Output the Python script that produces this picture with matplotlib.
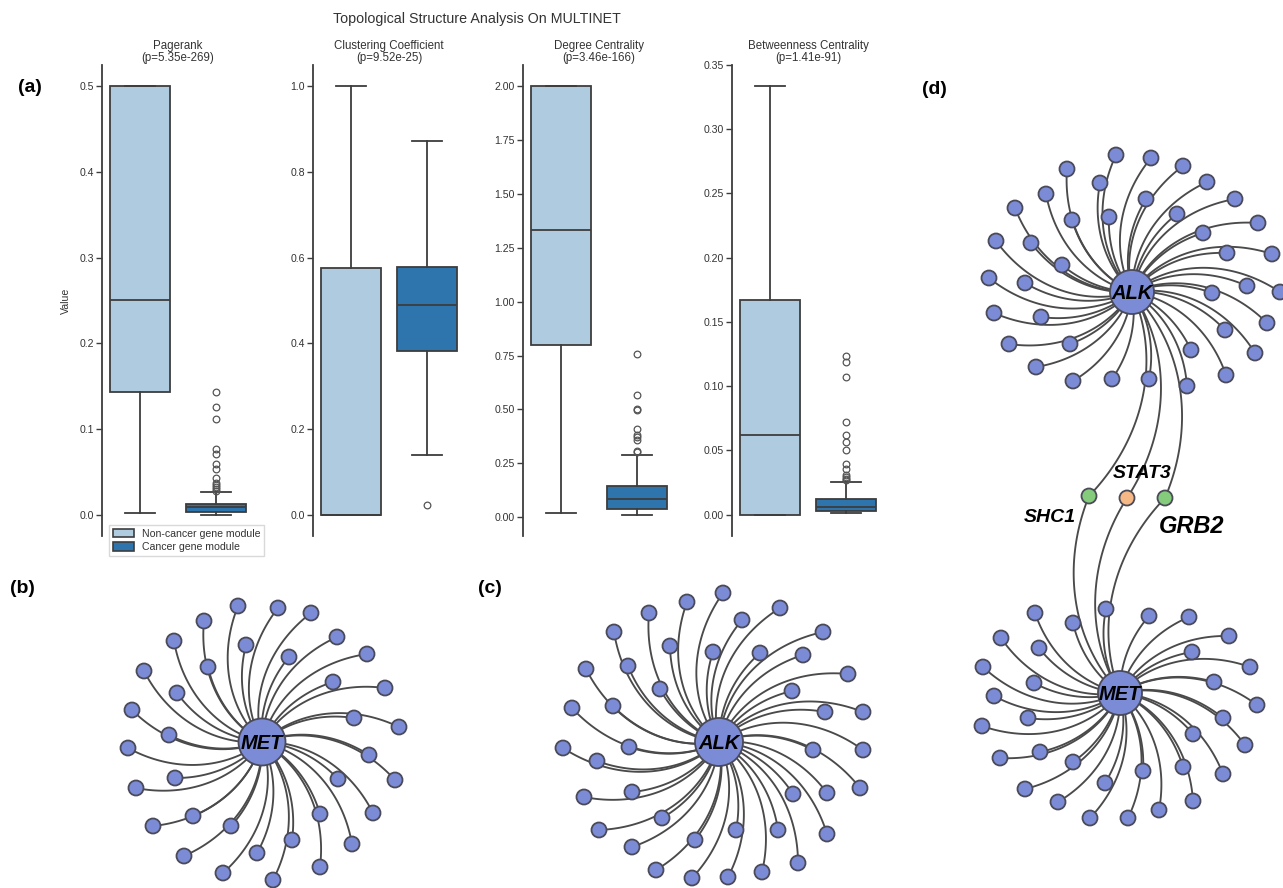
import numpy as np
import matplotlib
matplotlib.use("Agg")
import matplotlib.pyplot as plt
from matplotlib.patches import Circle, Patch

plt.rcParams["font.family"] = ["Liberation Sans", "DejaVu Sans"]

# ---------------------------------------------------------------------------
# Box-plot data: topological metrics of cancer vs. non-cancer gene modules
# ---------------------------------------------------------------------------
metrics = ["Pagerank", "Clustering Coefficient", "Degree Centrality",
           "Betweenness Centrality"]
p_values = ["5.35e-269", "9.52e-25", "3.46e-166", "1.41e-91"]
groups = ["Non-cancer gene module", "Cancer gene module"]

# whisker-low, Q1, median, Q3, whisker-high
noncancer_stats = [
    [0.002, 0.143, 0.25, 0.50, 0.50],
    [0.0, 0.0, 0.0, 0.575, 1.0],
    [0.02, 0.80, 1.333, 2.0, 2.0],
    [0.0, 0.0, 0.062, 0.1667, 0.3333],
]
cancer_stats = [
    [0.0, 0.0027, 0.0085, 0.0126, 0.026],
    [0.14, 0.383, 0.49, 0.579, 0.873],
    [0.011, 0.037, 0.085, 0.145, 0.288],
    [0.0013, 0.0026, 0.0057, 0.0122, 0.0252],
]
cancer_fliers = [
    [0.143, 0.1255, 0.112, 0.0765, 0.0706, 0.0588, 0.0538, 0.0432, 0.0365,
     0.0341, 0.0321, 0.0302, 0.028],
    [0.023],
    [0.759, 0.566, 0.50, 0.498, 0.409, 0.381, 0.370, 0.358, 0.308, 0.304],
    [0.1238, 0.119, 0.1072, 0.0722, 0.0618, 0.0566, 0.050, 0.039, 0.0356,
     0.0306, 0.0293, 0.028, 0.0267],
]
noncancer_fliers = [[], [], [], []]
ytick_values = [
    [0.0, 0.1, 0.2, 0.3, 0.4, 0.5],
    [0.0, 0.2, 0.4, 0.6, 0.8, 1.0],
    [0.0, 0.25, 0.5, 0.75, 1.0, 1.25, 1.5, 1.75, 2.0],
    [0.0, 0.05, 0.10, 0.15, 0.20, 0.25, 0.30, 0.35],
]

# ---------------------------------------------------------------------------
# Network data: star layouts (leaf offsets from hub, in pixels)
# ---------------------------------------------------------------------------
met_b_hub = (262, 742)
met_b_dx = [-24, 16, 49, -58, 75, -88, -16, 27, 105, -118, -54, 71, 123, -85,
            92, 137, -130, -93, -134, 107, 133, -87, -126, 76, 111, 58, -69,
            -109, -31, 30, 90, -5, -78, 58, -39, 11]
met_b_dy = [-136, -134, -129, -121, -105, -101, -97, -85, -88, -71, -75, -60,
            -54, -49, -24, -15, -32, -7, 6, 13, 38, 36, 46, 37, 71, 72, 74, 84,
            84, 98, 102, 111, 114, 125, 131, 138]

alk_c_hub = (719, 742)
alk_c_dx = [4, -32, 61, -70, 23, -105, 104, -49, -6, 41, 84, -91, -133, 129,
            -59, 73, -106, -147, 106, 144, -90, -156, 94, 144, -122, -135, -87,
            74, 108, 141, -120, -57, 17, 59, 108, -87, -24, 79, -63, 9, 43, -27]
alk_c_dy = [-149, -140, -134, -129, -122, -110, -110, -96, -90, -89, -87, -76,
            -73, -68, -53, -51, -36, -34, -30, -30, 5, 6, 8, 8, 19, 55, 50, 52,
            51, 46, 88, 76, 88, 88, 92, 105, 98, 121, 128, 135, 130, 136]

alk_d_hub = (1132, 292)
alk_d_dx = [-16, 19, 51, -65, 75, -32, -86, 14, 103, -117, -23, 45, -60, 126,
            71, -136, -101, 95, 140, -70, -143, -107, 115, 148, 80, -138, -91,
            135, 93, -123, -62, 59, 123, -96, 94, -59, -20, 17, 55]
alk_d_dy = [-137, -134, -126, -123, -110, -109, -98, -93, -93, -84, -75, -78,
            -72, -69, -59, -51, -49, -39, -38, -27, -14, -9, -6, 0, 1, 21, 25,
            31, 38, 52, 52, 58, 61, 75, 83, 89, 87, 87, 94]

met_d_hub = (1120, 693)
met_d_dx = [-14, -85, 29, 69, -47, -119, 109, -81, 72, -137, 130, -86, 94,
            -126, 137, -92, 103, -138, 73, 125, -80, -120, -47, 63, 23, 103,
            -15, -95, 73, -62, 39, -30, 8]
met_d_dy = [-84, -80, -77, -76, -70, -55, -57, -45, -41, -26, -26, -10, -11, 3,
            12, 25, 25, 33, 41, 52, 59, 65, 69, 74, 78, 81, 90, 96, 108, 109,
            117, 125, 125]

# shared partners linking ALK and MET
bridge_names = ["SHC1", "STAT3", "GRB2"]
bridge_x = [1089, 1127, 1165]
bridge_y = [496, 498, 498]
bridge_colors = ["#84cc7c", "#f6b986", "#84cc7c"]

# ---------------------------------------------------------------------------
W, H = 1283, 888
fig = plt.figure(figsize=(W / 100, H / 100), dpi=100)

LIGHT = "#afcbdf"
DARK = "#2f75ad"
LINE = "#3d3d3d"
TXT = "#333333"
NODE = "#7b8bd6"
NODE_EDGE = "#4a4a58"
EDGE = "#4a4a4a"

# ---------------------------- network canvas --------------------------------
net = fig.add_axes([0, 0, 1, 1])
net.set_xlim(0, W)
net.set_ylim(H, 0)
net.axis("off")


def spiral(x0, y0, x1, y1, k, n=80):
    """Curved edge from (x0, y0) to (x1, y1) swirling clockwise outward."""
    dx, dy = x1 - x0, y1 - y0
    r = np.hypot(dx, dy)
    th = np.arctan2(dy, dx)
    s = np.linspace(0, r, n)
    ang = th - k * (r - s)
    return x0 + s * np.cos(ang), y0 + s * np.sin(ang)


def draw_star(hub, dx, dy, name, hub_r=23, leaf_r=7.5, k=0.0045):
    hx, hy = hub
    for ddx, ddy in zip(dx, dy):
        xs, ys = spiral(hx, hy, hx + ddx, hy + ddy, k)
        net.plot(xs, ys, color=EDGE, lw=1.35, zorder=1, solid_capstyle="round")
    for ddx, ddy in zip(dx, dy):
        net.add_patch(Circle((hx + ddx, hy + ddy), leaf_r, facecolor=NODE,
                             edgecolor=NODE_EDGE, lw=1.3, zorder=3))
    net.add_patch(Circle((hx, hy), hub_r, facecolor=NODE,
                         edgecolor=NODE_EDGE, lw=1.3, zorder=4))
    net.text(hx, hy + 1, name, ha="center", va="center", fontsize=14.5,
             fontweight="bold", fontstyle="italic", color="black", zorder=5)


# bridge edges between the two hubs in panel (d)
for bx, by in zip(bridge_x, bridge_y):
    for hub in (alk_d_hub, met_d_hub):
        xs, ys = spiral(hub[0], hub[1], bx, by, 0.003)
        net.plot(xs, ys, color=EDGE, lw=1.35, zorder=1)

draw_star(met_b_hub, met_b_dx, met_b_dy, "MET", hub_r=23.5)
draw_star(alk_c_hub, alk_c_dx, alk_c_dy, "ALK", hub_r=24)
draw_star(alk_d_hub, alk_d_dx, alk_d_dy, "ALK", hub_r=22)
draw_star(met_d_hub, met_d_dx, met_d_dy, "MET", hub_r=22)

for bx, by, c in zip(bridge_x, bridge_y, bridge_colors):
    net.add_patch(Circle((bx, by), 7.5, facecolor=c, edgecolor=NODE_EDGE,
                         lw=1.3, zorder=3))

label_offsets = [(-39, 21), (15, -25), (27, 28)]
label_sizes = [14, 14, 17]
for name, bx, by, (ox, oy), fs in zip(bridge_names, bridge_x, bridge_y,
                                      label_offsets, label_sizes):
    net.text(bx + ox, by + oy, name, ha="center", va="center", fontsize=fs,
             fontweight="bold", fontstyle="italic", color="black", zorder=5)

# panel letters
for letter, (px, py) in zip(["(a)", "(b)", "(c)", "(d)"],
                            [(30, 87), (22, 588), (490, 588), (934, 90)]):
    net.text(px, py, letter, ha="center", va="center", fontsize=14,
             fontweight="bold", color="black")

# ---------------------------- box plots -------------------------------------
ax_left_px = [102, 313, 523, 732]
ax_w_px, ax_top_px, ax_bot_px = 152, 65, 536

fig.text(477 / W, 1 - 19 / H, "Topological Structure Analysis On MULTINET",
         ha="center", va="center", fontsize=10.3, color=TXT)

axes = []
for i, left in enumerate(ax_left_px):
    ax = fig.add_axes([left / W, 1 - ax_bot_px / H, ax_w_px / W,
                       (ax_bot_px - ax_top_px) / H])
    axes.append(ax)
    stats = []
    for s, fl, lab in ((noncancer_stats[i], noncancer_fliers[i], groups[0]),
                       (cancer_stats[i], cancer_fliers[i], groups[1])):
        stats.append(dict(whislo=s[0], q1=s[1], med=s[2], q3=s[3],
                          whishi=s[4], fliers=fl, label=lab))
    bp = ax.bxp(stats, positions=[0, 1], widths=0.8, capwidths=0.4,
                patch_artist=True, showfliers=True,
                boxprops=dict(edgecolor=LINE, linewidth=1.3),
                medianprops=dict(color=LINE, linewidth=1.3),
                whiskerprops=dict(color=LINE, linewidth=1.3),
                capprops=dict(color=LINE, linewidth=1.3),
                flierprops=dict(marker="o", markerfacecolor="none",
                                markeredgecolor="#555555", markersize=4.8,
                                markeredgewidth=0.9))
    for patch, col in zip(bp["boxes"], [LIGHT, DARK]):
        patch.set_facecolor(col)

    vals = noncancer_stats[i] + cancer_stats[i] + cancer_fliers[i]
    lo, hi = min(vals), max(vals)
    pad = 0.05 * (hi - lo)
    ax.set_ylim(lo - pad, hi + pad)
    ax.set_xlim(-0.5, 1.5)
    ax.set_yticks(ytick_values[i])
    ax.set_xticks([])
    for sp in ("top", "right", "bottom"):
        ax.spines[sp].set_visible(False)
    ax.spines["left"].set_color(LINE)
    ax.spines["left"].set_linewidth(1.3)
    ax.tick_params(axis="y", labelsize=7.6, length=4, width=1.0,
                   color=LINE, labelcolor=TXT, pad=2)
    ax.patch.set_alpha(0)
    ax.set_title(f"{metrics[i]}\n(p={p_values[i]})", fontsize=8.3, color=TXT,
                 pad=3, linespacing=1.0)

axes[0].set_ylabel("Value", fontsize=7.6, color=TXT, labelpad=6)

handles = [Patch(facecolor=LIGHT, edgecolor=LINE, lw=1.2),
           Patch(facecolor=DARK, edgecolor=LINE, lw=1.2)]
fig.legend(handles, groups, loc="upper left",
           bbox_to_anchor=(109 / W, 1 - 525 / H), fontsize=7.6,
           frameon=True, fancybox=False, edgecolor="#d0d0d0",
           handlelength=2.0, handleheight=0.9, labelspacing=0.35,
           borderpad=0.35, handletextpad=0.8, borderaxespad=0,
           labelcolor=TXT)

fig.savefig("out.png", dpi=100)
